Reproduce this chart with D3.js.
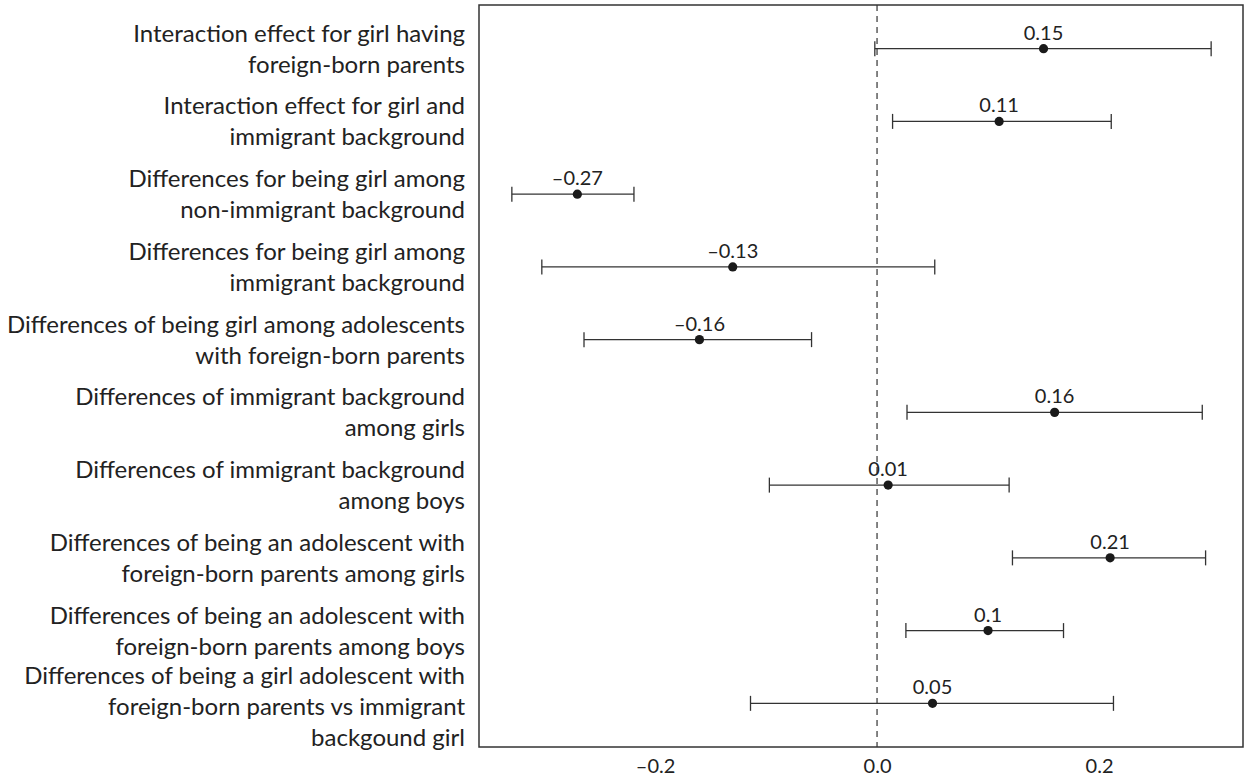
<!DOCTYPE html>
<html>
<head>
<meta charset="utf-8">
<script src="https://cdn.jsdelivr.net/npm/d3@7"></script>
<style>
  html, body { margin: 0; padding: 0; background: #fff; }
  svg { display: block; font-family: Lato, "Open Sans", sans-serif; }
</style>
</head>
<body>
<svg id="chart" width="1245" height="780"></svg>
<script>
// Effect labels, each split into its printed lines
const labels = [
  ["Interaction effect for girl having", "foreign-born parents"],
  ["Interaction effect for girl and", "immigrant background"],
  ["Differences for being girl among", "non-immigrant background"],
  ["Differences for being girl among", "immigrant background"],
  ["Differences of being girl among adolescents", "with foreign-born parents"],
  ["Differences of immigrant background", "among girls"],
  ["Differences of immigrant background", "among boys"],
  ["Differences of being an adolescent with", "foreign-born parents among girls"],
  ["Differences of being an adolescent with", "foreign-born parents among boys"],
  ["Differences of being a girl adolescent with", "foreign-born parents vs immigrant", "backgound girl"]
];
const estimates = [0.15, 0.11, -0.27, -0.13, -0.16, 0.16, 0.01, 0.21, 0.10, 0.05];
const lower     = [-0.002, 0.014, -0.329, -0.302, -0.264, 0.027, -0.097, 0.122, 0.026, -0.114];
const upper     = [0.301, 0.211, -0.219, 0.052, -0.059, 0.293, 0.119, 0.296, 0.168, 0.213];
const valueText = ["0.15", "0.11", "\u20130.27", "\u20130.13", "\u20130.16", "0.16", "0.01", "0.21", "0.1", "0.05"];
const xTicks = [-0.2, 0.0, 0.2];
const xTickText = ["\u20130.2", "0.0", "0.2"];

const svg = d3.select("#chart");
const margin = { left: 479, right: 2, top: 5, bottom: 33 };
const W = 1245, H = 780;
const ink = "#333333";
const textInk = "#222222";

const x = d3.scaleLinear()
  .domain([-0.3586, 0.3297])
  .range([margin.left, W - margin.right]);

const idx = d3.range(labels.length);
const y = d3.scalePoint()
  .domain(idx)
  .range([margin.top, H - margin.bottom])
  .padding(0.6);

// Reference line at zero
svg.append("line")
  .attr("x1", x(0)).attr("x2", x(0))
  .attr("y1", margin.top).attr("y2", H - margin.bottom)
  .attr("stroke", ink).attr("stroke-width", 1.2)
  .attr("stroke-dasharray", "6,5");

// Confidence intervals with end caps
const cap = 7.5;
const g = svg.append("g");
idx.forEach(i => {
  const yy = y(i);
  g.append("line")
    .attr("x1", x(lower[i])).attr("x2", x(upper[i]))
    .attr("y1", yy).attr("y2", yy)
    .attr("stroke", ink).attr("stroke-width", 1.3);
  [lower[i], upper[i]].forEach(v => {
    g.append("line")
      .attr("x1", x(v)).attr("x2", x(v))
      .attr("y1", yy - cap).attr("y2", yy + cap)
      .attr("stroke", ink).attr("stroke-width", 1.3);
  });
  g.append("circle")
    .attr("cx", x(estimates[i])).attr("cy", yy)
    .attr("r", 4.6).attr("fill", "#1a1a1a");
  g.append("text")
    .attr("x", x(estimates[i])).attr("y", yy - 9)
    .attr("text-anchor", "middle")
    .attr("font-size", 20)
    .attr("fill", textInk)
    .text(valueText[i]);
});

// Row labels, right aligned against the panel; taller blocks sit a little lower
const lineGap = 31;
idx.forEach(i => {
  const lines = labels[i];
  const n = lines.length;
  const nudge = (n - 2) * 3;
  const t = svg.append("text")
    .attr("text-anchor", "end")
    .attr("font-size", 24)
    .attr("fill", textInk);
  lines.forEach((ln, k) => {
    t.append("tspan")
      .attr("x", margin.left - 14)
      .attr("y", y(i) + nudge + (k - (n - 1) / 2) * lineGap)
      .attr("dy", "0.35em")
      .text(ln);
  });
});

// Bottom axis labels (no tick marks)
const xAxis = d3.axisBottom(x)
  .tickValues(xTicks)
  .tickSize(0)
  .tickPadding(12)
  .tickFormat((d, i) => xTickText[i]);
const ax = svg.append("g")
  .attr("transform", `translate(0,${H - margin.bottom})`)
  .call(xAxis);
ax.select(".domain").remove();
ax.selectAll("text")
  .attr("font-size", 20)
  .attr("font-family", "Lato, 'Open Sans', sans-serif")
  .attr("fill", textInk);

// Panel frame
svg.append("rect")
  .attr("x", margin.left).attr("y", margin.top)
  .attr("width", W - margin.right - margin.left)
  .attr("height", H - margin.bottom - margin.top)
  .attr("fill", "none")
  .attr("stroke", ink).attr("stroke-width", 1.5);
</script>
</body>
</html>
